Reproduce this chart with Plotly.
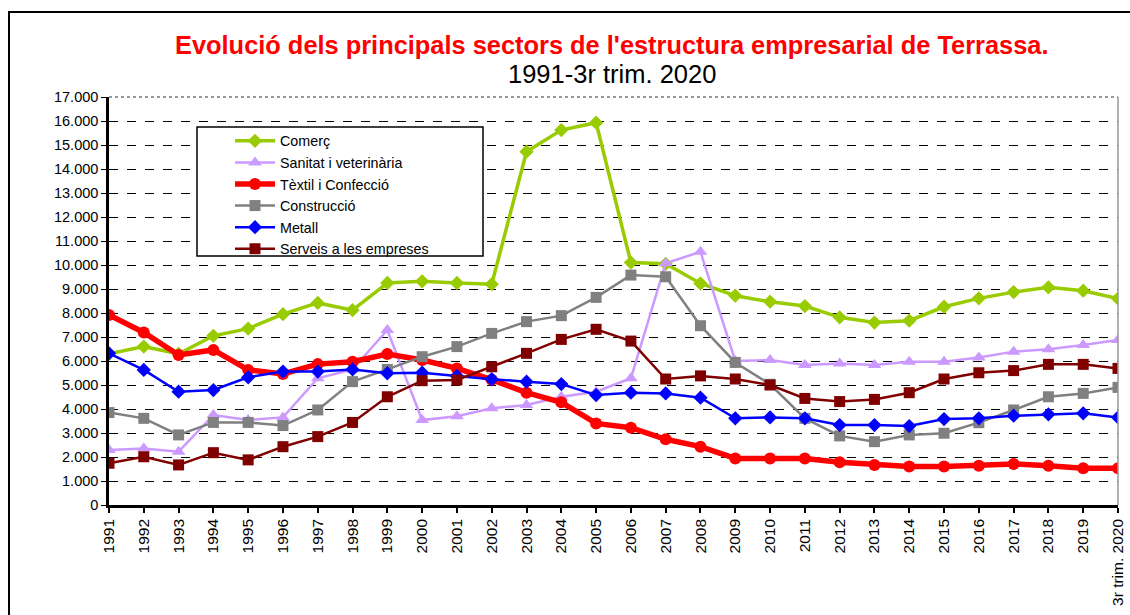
import plotly.graph_objects as go

years = [str(y) for y in range(1991, 2020)] + ["3r trim. 2020"]

comerc = [6300, 6600, 6300, 7050, 7350, 7950, 8420, 8120, 9250, 9320, 9250, 9200,
          14720, 15620, 15930, 10100, 10050, 9230, 8720, 8470, 8290, 7820, 7600, 7680,
          8260, 8610, 8870, 9070, 8930, 8600]
sanitat = [2290, 2350, 2220, 3750, 3540, 3650, 5280, 5650, 7290, 3540, 3700, 4030,
           4170, 4510, 4720, 5280, 10070, 10550, 6000, 6040, 5830, 5900, 5830, 5970,
           5970, 6150, 6390, 6490, 6670, 6880]
textil = [7920, 7190, 6250, 6460, 5630, 5460, 5870, 5970, 6290, 6040, 5690, 5220,
          4680, 4280, 3400, 3220, 2740, 2430, 1940, 1940, 1940, 1780, 1670, 1600,
          1600, 1640, 1710, 1640, 1530, 1530]
construccio = [3850, 3610, 2920, 3440, 3440, 3310, 3960, 5140, 5650, 6180, 6600, 7150,
               7640, 7890, 8650, 9580, 9510, 7470, 5940, 5030, 3610, 2880, 2640, 2920,
               2990, 3430, 3960, 4510, 4650, 4900]
metall = [6320, 5630, 4720, 4790, 5320, 5560, 5560, 5650, 5490, 5510, 5380, 5240,
          5140, 5040, 4580, 4680, 4650, 4470, 3610, 3650, 3610, 3330, 3330, 3290,
          3580, 3610, 3720, 3780, 3820, 3650]
serveis = [1740, 2010, 1670, 2180, 1880, 2430, 2850, 3440, 4510, 5180, 5210, 5760,
           6320, 6900, 7320, 6830, 5250, 5380, 5250, 5000, 4440, 4310, 4400, 4680,
           5250, 5510, 5600, 5860, 5860, 5690]

series = [
    ("Comerç", comerc, "#99CC00", "diamond", 11, 3.5),
    ("Sanitat i veterinària", sanitat, "#CC99FF", "triangle-up", 12, 2.5),
    ("Tèxtil i Confecció", textil, "#FF0000", "circle", 12, 5.5),
    ("Construcció", construccio, "#808080", "square", 11, 2.5),
    ("Metall", metall, "#0000FF", "diamond", 11, 2.5),
    ("Serveis a les empreses", serveis, "#800000", "square", 11, 2.5),
]

FONT = "Liberation Sans, Arial, sans-serif"

fig = go.Figure()
for name, vals, color, sym, msize, lw in series:
    fig.add_trace(go.Scatter(
        x=years, y=vals, name=name, mode="lines+markers",
        line=dict(color=color, width=lw),
        marker=dict(color=color, symbol=sym, size=msize),
    ))

W, H = 1130, 615
L, T = 109, 97          # plot area origin in pixels
PW, PH = 1009, 408


def px(x):   # pixel x -> paper
    return (x - L) / PW


def py(y):   # pixel y -> paper
    return (T + PH - y) / PH


fig.update_layout(
    width=W, height=H,
    margin=dict(l=L, r=W - L - PW, t=T, b=H - T - PH, autoexpand=False),
    paper_bgcolor="white", plot_bgcolor="white",
    separators=",.",
    font=dict(family=FONT, size=13, color="black"),
    showlegend=True,
    legend=dict(
        x=px(230), y=py(125), xanchor="left", yanchor="top",
        borderwidth=0, bgcolor="rgba(0,0,0,0)",
        font=dict(size=14.3, family=FONT), tracegroupgap=0, itemwidth=40,
    ),
    annotations=[
        dict(text="<b>Evolució dels principals sectors de l'estructura empresarial de Terrassa.</b>",
             xref="paper", yref="paper", x=px(611), y=py(45), xanchor="center",
             yanchor="middle", showarrow=False,
             font=dict(size=25.4, color="#FF0000", family=FONT)),
        dict(text="1991-3r trim. 2020",
             xref="paper", yref="paper", x=px(612), y=py(74), xanchor="center",
             yanchor="middle", showarrow=False,
             font=dict(size=25.5, color="black", family=FONT)),
    ],
    shapes=[
        dict(type="rect", xref="paper", yref="paper",
             x0=px(9), x1=px(1145), y0=py(630), y1=py(12),
             line=dict(color="black", width=2), layer="below"),
        dict(type="line", xref="paper", yref="paper", x0=0, x1=1, y0=1, y1=1,
             line=dict(color="#999999", width=2, dash="dot")),
        dict(type="line", xref="paper", yref="paper", x0=1, x1=1, y0=0, y1=1,
             line=dict(color="#999999", width=1.5)),
        dict(type="rect", xref="paper", yref="paper",
             x0=px(197), x1=px(483), y0=py(256), y1=py(127),
             line=dict(color="black", width=1.5), fillcolor="white", layer="above"),
    ],
)

fig.update_xaxes(
    type="category", range=[0, 29], automargin=False,
    tickangle=-90, ticks="outside", ticklen=5, tickcolor="black", tickwidth=1.5,
    showline=True, linecolor="black", linewidth=2.5, showgrid=False,
    tickfont=dict(size=15.5, family=FONT), zeroline=False,
)
fig.update_yaxes(
    range=[0, 17000], dtick=1000, tickformat=",d", automargin=False,
    ticks="outside", ticklen=5, tickcolor="black",
    showline=True, linecolor="black", linewidth=2.5,
    showgrid=True, gridcolor="black", gridwidth=1, griddash="dash",
    tickfont=dict(size=14.5, family=FONT), zeroline=False,
)

fig.write_html(
    "out.html",
    config={"displayModeBar": False},
    post_script="document.body.style.margin='0px';document.body.style.overflow='hidden';",
)
